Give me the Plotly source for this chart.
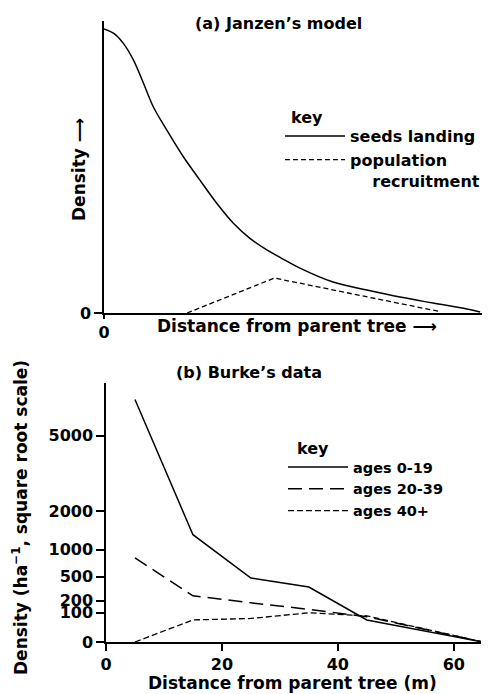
import numpy as np
import plotly.graph_objects as go

W, H = 490, 694

# ---------------- (a) Janzen's model (arbitrary units) ----------------
janzen_dist = [0, 2.5, 5.1, 7.8, 10.5, 13.1, 16.7, 21.1, 25.5, 30.0, 34.4, 38.8,
               43.3, 46.8, 52.1, 60.9, 69.9, 78.7, 87.5, 96.5, 100]
seeds_landing = [100, 98.5, 95.0, 89.1, 80.9, 72.6, 64.4, 55.0, 46.8, 38.6, 31.6,
                 26.3, 22.2, 19.6, 15.8, 10.9, 8.1, 5.6, 3.5, 1.4, 0.35]
recruit_dist = [22.1, 45.3, 89.3]
recruitment = [0, 12.3, 0.5]

# ---------------- (b) Burke's data (density per ha) ----------------
burke_dist = [5, 15, 25, 35, 45, 65]
ages_0_19 = [6900, 1350, 480, 355, 57, 0]
ages_20_39 = [830, 250, 180, 125, 75, 0]
ages_40_plus = [0, 57, 65, 100, 80, 0]
burke_yticks = [0, 100, 200, 500, 1000, 2000, 5000]
burke_xticks = [0, 20, 40, 60]

FONT = "DejaVu Sans"
fnt = dict(family=FONT, size=16, color="black", weight="bold")
fnt_title = dict(family=FONT, size=17, color="black", weight="bold")
fnt_leg2 = dict(family=FONT, size=14.5, color="black", weight="bold")


def px_x(p):
    return p / W


def px_y(p):
    return 1 - p / H


fig = go.Figure()

fig.add_trace(go.Scatter(x=janzen_dist, y=seeds_landing, mode="lines",
                         line=dict(color="black", width=1.5, shape="spline", smoothing=1.0),
                         name="seeds landing", xaxis="x", yaxis="y", legend="legend"))
fig.add_trace(go.Scatter(x=recruit_dist, y=recruitment, mode="lines",
                         line=dict(color="black", width=1.3, dash="5px,3px"),
                         name="population<br>\u00a0\u00a0\u00a0\u00a0recruitment",
                         xaxis="x", yaxis="y", legend="legend"))

sq = np.sqrt
fig.add_trace(go.Scatter(x=burke_dist, y=sq(ages_0_19), mode="lines",
                         line=dict(color="black", width=1.5),
                         name="ages 0-19", xaxis="x2", yaxis="y2", legend="legend2"))
fig.add_trace(go.Scatter(x=burke_dist, y=sq(ages_20_39), mode="lines",
                         line=dict(color="black", width=1.5, dash="14px,7px"),
                         name="ages 20-39", xaxis="x2", yaxis="y2", legend="legend2"))
fig.add_trace(go.Scatter(x=burke_dist, y=sq(ages_40_plus), mode="lines",
                         line=dict(color="black", width=1.3, dash="6px,3px"),
                         name="ages 40+", xaxis="x2", yaxis="y2", legend="legend2"))

axis_common = dict(showline=True, linecolor="black", linewidth=1.5, showgrid=False,
                   zeroline=False, ticks="outside", tickcolor="black", tickwidth=1.5,
                   tickfont=fnt, fixedrange=True, automargin=False)

legend_common = dict(xanchor="left", yanchor="top", bgcolor="rgba(0,0,0,0)",
                     borderwidth=0, itemwidth=60, valign="top", tracegroupgap=0)

fig.update_layout(
    width=W, height=H, autosize=False,
    margin=dict(l=0, r=0, t=0, b=0, pad=0),
    paper_bgcolor="white", plot_bgcolor="white",
    font=fnt,
    xaxis=dict(domain=[px_x(104), px_x(482)], range=[0, 100.5], anchor="y",
               tickvals=[0], ticktext=["0"], ticklen=4, **axis_common),
    yaxis=dict(domain=[px_y(313), px_y(21)], range=[0, 102.8], anchor="x",
               tickvals=[0], ticktext=["0"], ticklen=8, **axis_common),
    xaxis2=dict(domain=[px_x(106), px_x(481)], range=[0, 64.7], anchor="y2",
                tickvals=burke_xticks, ticktext=[str(v) for v in burke_xticks],
                ticklen=7, **axis_common),
    yaxis2=dict(domain=[px_y(642), px_y(383)], range=[0, 88.7], anchor="x2",
                tickvals=list(sq(burke_yticks)), ticktext=[str(v) for v in burke_yticks],
                ticklen=8, **axis_common),
    legend=dict(x=px_x(280), y=px_y(119), font=fnt, **legend_common),
    legend2=dict(x=px_x(283), y=px_y(451), font=fnt_leg2, **legend_common),
    showlegend=True,
)

annots = [
    dict(text="(a) Janzen\u2019s model", x=px_x(278), y=px_y(23), font=fnt),
    dict(text="Distance from parent tree \u27f6", x=px_x(297), y=px_y(326), font=fnt_title),
    dict(text="Density \u27f6", x=px_x(79), y=px_y(170), textangle=-90, font=fnt_title),
    dict(text="(b) Burke\u2019s data", x=px_x(249), y=px_y(372), font=fnt),
    dict(text="Distance from parent tree (m)", x=px_x(292), y=px_y(683), font=fnt_title),
    dict(text="Density (ha<sup>\u22121</sup>, square root scale)", x=px_x(20), y=px_y(518),
         textangle=-90, font=fnt_title),
]
for a in annots:
    fig.add_annotation(xref="paper", yref="paper", showarrow=False,
                       xanchor="center", yanchor="middle", **a)

# legend headings
for txt, x, y in [("key", 289, 118), ("key", 295, 448)]:
    fig.add_annotation(xref="paper", yref="paper", showarrow=False, text=txt,
                       x=px_x(x), y=px_y(y), xanchor="left", yanchor="middle", font=fnt)

fig.write_html("out.html", config={"displayModeBar": False},
               post_script="document.body.style.margin='0px';")
